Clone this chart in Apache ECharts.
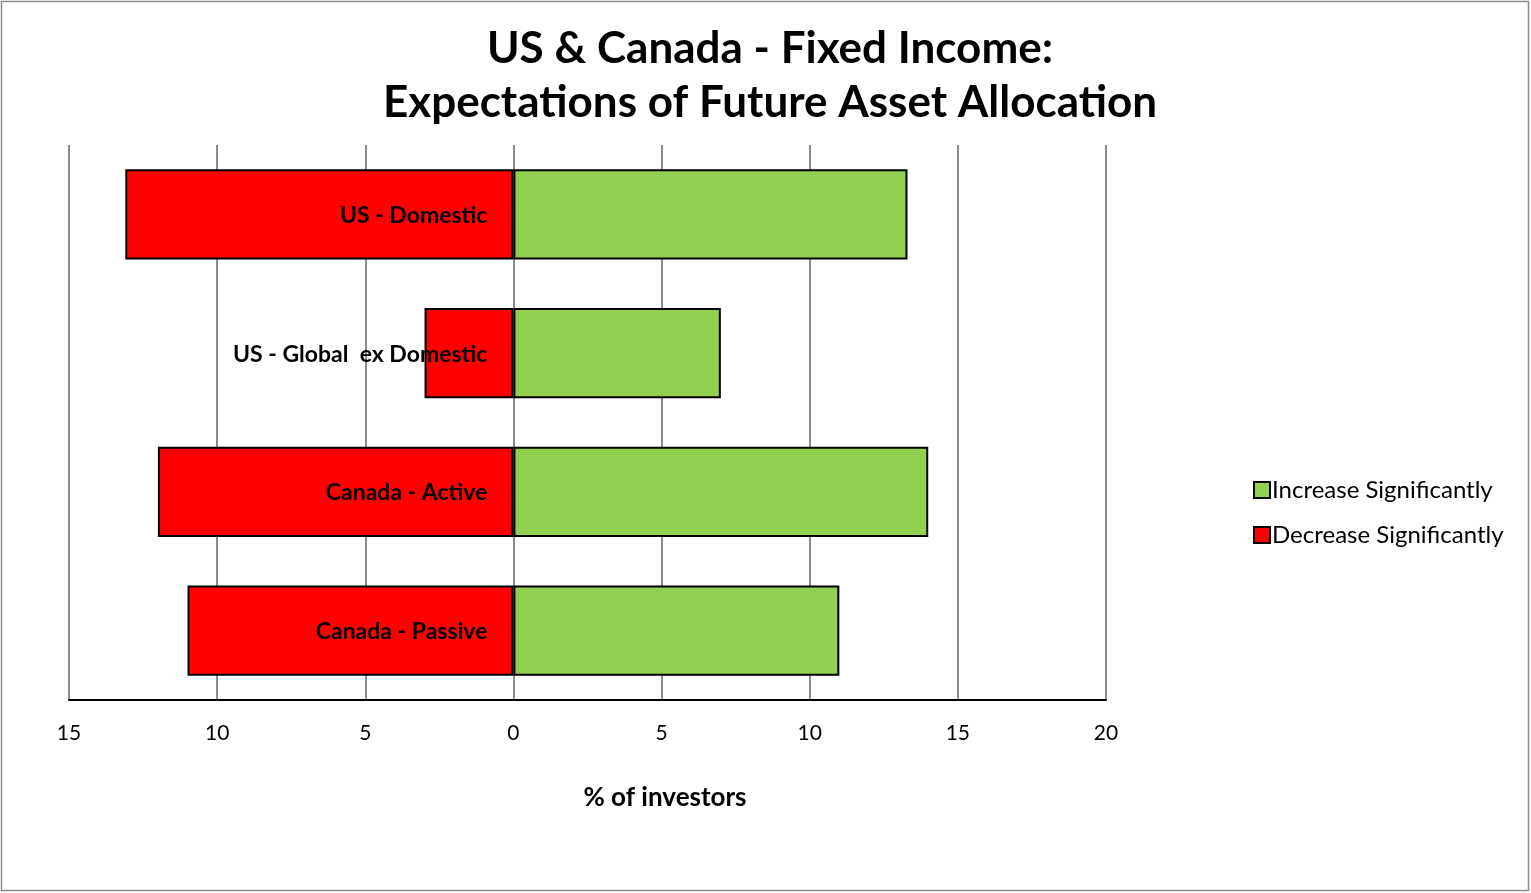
<!DOCTYPE html>
<html>
<head>
<meta charset="utf-8">
<script src="https://cdn.jsdelivr.net/npm/echarts@6/dist/echarts.min.js"></script>
<style>
  html, body { margin: 0; padding: 0; background: #fff; }
  #chart { width: 1531px; height: 893px; }
</style>
</head>
<body>
<div id="chart"></div>
<script>
// Survey categories, top to bottom
const categories = ['US - Domestic', 'US - Global  ex Domestic', 'Canada - Active', 'Canada - Passive'];
// % of investors expecting a significant increase
const increaseValues = [13.3, 7, 14, 11];
// % of investors expecting a significant decrease (drawn to the left of zero)
const decreaseValues = [13.1, 3, 12, 11];
const titleLines = ['US & Canada - Fixed Income:', 'Expectations of Future Asset Allocation'];
const seriesNames = ['Increase Significantly', 'Decrease Significantly'];

const FONT = 'Lato, "Open Sans", sans-serif';

const chart = echarts.init(document.getElementById('chart'), null, { renderer: 'canvas' });

chart.setOption({
  backgroundColor: '#ffffff',
  animation: false,
  title: {
    text: titleLines.join('\n'),
    left: 765,
    textAlign: 'center',
    top: 17,
    textStyle: {
      fontFamily: FONT,
      fontWeight: 'bold',
      fontSize: 44,
      lineHeight: 54,
      color: '#000'
    }
  },
  legend: {
    orient: 'vertical',
    left: 1248,
    top: 473,
    itemWidth: 16,
    itemHeight: 16,
    itemGap: 21,
    icon: 'rect',
    data: seriesNames,
    textStyle: { fontFamily: FONT, fontSize: 24, color: '#000', padding: [0, 0, 0, -3] }
  },
  grid: { left: 69, right: 425, top: 145, bottom: 193, containLabel: false },
  xAxis: {
    type: 'value',
    min: -15,
    max: 20,
    interval: 5,
    axisLine: { show: true, lineStyle: { color: '#000', width: 2 } },
    axisTick: { show: false },
    axisLabel: {
      margin: 23,
      fontFamily: FONT,
      fontSize: 21,
      color: '#000',
      formatter: v => String(Math.abs(v))
    },
    splitLine: { show: true, lineStyle: { color: '#8c8c8c', width: 2 } }
  },
  yAxis: {
    type: 'category',
    data: categories,
    inverse: true,
    axisLine: { show: false },
    axisTick: { show: false },
    axisLabel: { show: false },
    splitLine: { show: false }
  },
  series: [
    {
      name: seriesNames[1],
      type: 'bar',
      data: decreaseValues.map(v => -v),
      barWidth: '65%',
      barGap: '-100%',
      itemStyle: { color: '#ff0000', borderColor: '#000', borderWidth: 2 },
      z: 2
    },
    {
      name: seriesNames[0],
      type: 'bar',
      data: increaseValues,
      barWidth: '65%',
      barGap: '-100%',
      itemStyle: { color: '#92d050', borderColor: '#000', borderWidth: 2 },
      label: {
        show: true,
        position: 'left',
        distance: 26,
        offset: [0, 1],
        formatter: p => p.name,
        fontFamily: FONT,
        fontWeight: 'bold',
        fontSize: 23,
        color: '#000'
      },
      z: 3
    }
  ],
  graphic: [
    {
      type: 'text',
      style: {
        text: '% of investors',
        x: 665,
        y: 798,
        align: 'center',
        verticalAlign: 'middle',
        fontFamily: FONT,
        fontWeight: 'bold',
        fontSize: 26,
        fill: '#000'
      }
    },
    {
      type: 'rect',
      shape: { x: 1.5, y: 1.5, width: 1527, height: 889 },
      style: { fill: null, stroke: '#8c8c8c', lineWidth: 1.5 },
      silent: true
    }
  ]
});
</script>
</body>
</html>
